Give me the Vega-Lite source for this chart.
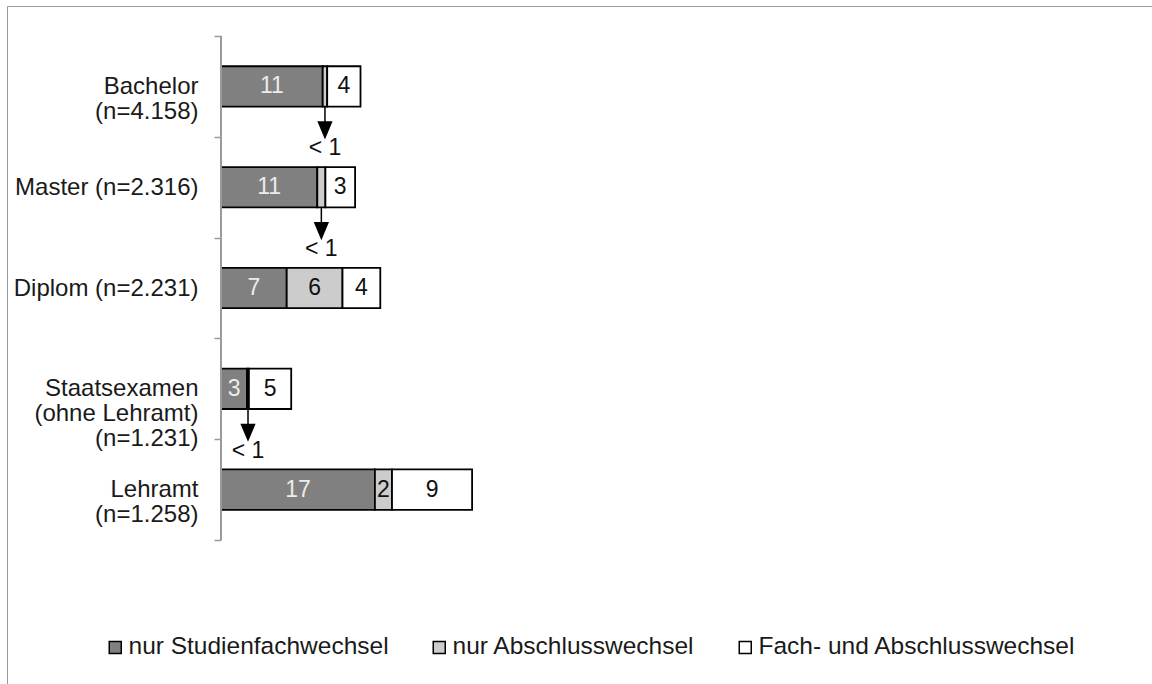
{
  "$schema": "https://vega.github.io/schema/vega-lite/v6.json",
  "width": 1200,
  "height": 700,
  "autosize": {"type": "none"},
  "padding": {"left": 7, "top": 6, "right": 0, "bottom": 0},
  "background": "white",
  "config": {"view": {"stroke": "#9a9a9a", "strokeWidth": 1}, "font": "Liberation Sans"},
  "data": {"values": [
    {"cat": "Bachelor\n(n=4.158)", "series": "nur Studienfachwechsel", "value": 11.3, "order": 1},
    {"cat": "Bachelor\n(n=4.158)", "series": "nur Abschlusswechsel", "value": 0.5, "order": 2},
    {"cat": "Bachelor\n(n=4.158)", "series": "Fach- und Abschlusswechsel", "value": 3.7, "order": 3},
    {"cat": "Master (n=2.316)", "series": "nur Studienfachwechsel", "value": 10.7, "order": 1},
    {"cat": "Master (n=2.316)", "series": "nur Abschlusswechsel", "value": 0.9, "order": 2},
    {"cat": "Master (n=2.316)", "series": "Fach- und Abschlusswechsel", "value": 3.3, "order": 3},
    {"cat": "Diplom (n=2.231)", "series": "nur Studienfachwechsel", "value": 7.3, "order": 1},
    {"cat": "Diplom (n=2.231)", "series": "nur Abschlusswechsel", "value": 6.2, "order": 2},
    {"cat": "Diplom (n=2.231)", "series": "Fach- und Abschlusswechsel", "value": 4.2, "order": 3},
    {"cat": "Staatsexamen\n(ohne Lehramt)\n(n=1.231)", "series": "nur Studienfachwechsel", "value": 2.9, "order": 1},
    {"cat": "Staatsexamen\n(ohne Lehramt)\n(n=1.231)", "series": "nur Abschlusswechsel", "value": 0.2, "order": 2},
    {"cat": "Staatsexamen\n(ohne Lehramt)\n(n=1.231)", "series": "Fach- und Abschlusswechsel", "value": 4.7, "order": 3},
    {"cat": "Lehramt\n(n=1.258)", "series": "nur Studienfachwechsel", "value": 17.1, "order": 1},
    {"cat": "Lehramt\n(n=1.258)", "series": "nur Abschlusswechsel", "value": 1.9, "order": 2},
    {"cat": "Lehramt\n(n=1.258)", "series": "Fach- und Abschlusswechsel", "value": 8.9, "order": 3}
  ]},
  "encoding": {
    "y": {
      "field": "cat", "type": "nominal",
      "sort": ["Bachelor\n(n=4.158)", "Master (n=2.316)", "Diplom (n=2.231)", "Staatsexamen\n(ohne Lehramt)\n(n=1.231)", "Lehramt\n(n=1.258)"],
      "scale": {"paddingInner": 0, "paddingOuter": 0.972, "align": 0.1531, "round": false},
      "axis": {
        "title": null, "domain": false, "offset": -214, "tickBand": "extent",
        "tickColor": "#9a9a9a", "tickSize": 7, "tickWidth": 1.5,
        "labelExpr": "split(datum.label, '\\n')",
        "labelFont": "Liberation Sans", "labelFontSize": 24, "labelColor": "#1a1a1a",
        "labelLineHeight": 25, "labelPadding": 16, "labelLimit": 300
      }
    },
    "x": {
      "field": "value", "type": "quantitative", "stack": "zero",
      "scale": {"domain": [-23.78, 109.56], "nice": false, "zero": false},
      "axis": null
    },
    "detail": {"field": "series"},
    "order": {"field": "order", "type": "quantitative"}
  },
  "layer": [
    {
      "mark": {"type": "bar", "stroke": "black", "strokeWidth": 1.8, "height": {"band": 0.4}},
      "encoding": {
        "color": {
          "field": "series", "type": "nominal",
          "scale": {
            "domain": ["nur Studienfachwechsel", "nur Abschlusswechsel", "Fach- und Abschlusswechsel"],
            "range": ["#808080", "#cccccc", "#ffffff"]
          },
          "legend": {
            "title": null, "orient": "none", "direction": "horizontal",
            "legendX": 96, "legendY": 629, "padding": 0,
            "symbolType": "square", "symbolSize": 144, "symbolStrokeColor": "black", "symbolStrokeWidth": 1.5,
            "labelFont": "Liberation Sans", "labelFontSize": 24.5, "labelColor": "#1a1a1a",
            "labelOffset": 1, "columnPadding": 38, "labelLimit": 400
          }
        }
      }
    },
    {
      "mark": {"type": "text", "fontSize": 23, "font": "Liberation Sans", "baseline": "middle", "align": "center"},
      "encoding": {
        "x": {"field": "value", "type": "quantitative", "stack": "zero", "bandPosition": 0.5},
        "text": {"condition": {"test": "datum.value < 1", "value": ""}, "field": "value", "type": "quantitative", "format": ".0f"},
        "color": {"condition": {"test": "datum.series === 'nur Studienfachwechsel'", "value": "#ececec"}, "value": "#111111"}
      }
    },
    {
      "mark": {"type": "point", "shape": "M0,-1L0,0M-0.42,0L0.42,0L0,1Z", "size": 961, "filled": true, "fill": "black", "stroke": "black", "strokeWidth": 1.5, "yOffset": 35.6},
      "encoding": {
        "x": {"field": "value", "type": "quantitative", "stack": "zero", "bandPosition": 0.5},
        "opacity": {"condition": {"test": "datum.value < 1", "value": 1}, "value": 0}
      }
    },
    {
      "mark": {"type": "text", "fontSize": 23, "font": "Liberation Sans", "baseline": "middle", "align": "center", "yOffset": 62, "color": "#111111"},
      "encoding": {
        "x": {"field": "value", "type": "quantitative", "stack": "zero", "bandPosition": 0.5},
        "text": {"condition": {"test": "datum.value < 1", "value": "< 1"}, "value": ""}
      }
    },
    {
      "transform": [{"filter": "datum.order === 1"}],
      "mark": {"type": "rule", "color": "#9a9a9a", "strokeWidth": 2, "yOffset": -50.4, "y2Offset": 50.4},
      "encoding": {
        "x": {"datum": 0, "type": "quantitative"},
        "y": {"field": "cat", "type": "nominal"},
        "y2": {"field": "cat"}
      }
    }
  ]
}
